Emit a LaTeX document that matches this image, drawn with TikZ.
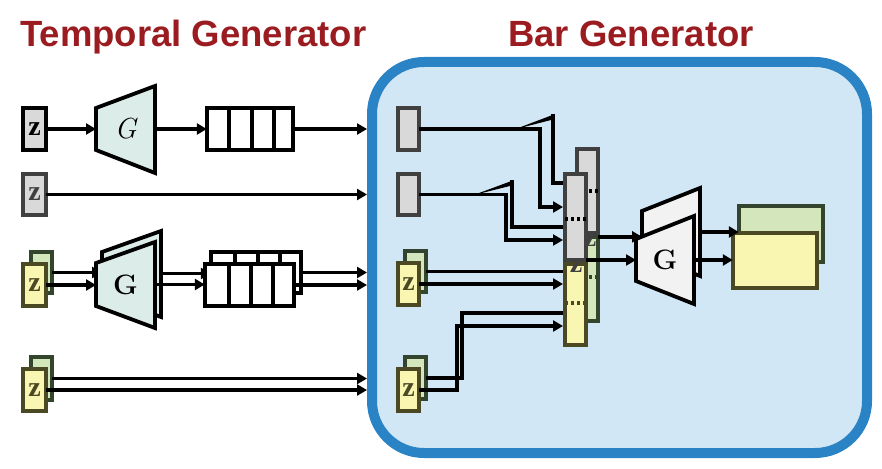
\documentclass[tikz,border=0pt]{standalone}
\usepackage{fontspec}
\newfontfamily\titlefont{Liberation Sans}
\newfontfamily\zfont{Liberation Serif}
\usetikzlibrary{arrows.meta,calc}
\definecolor{tred}{HTML}{9B1C20}
\definecolor{gfill}{HTML}{D9D9D9}
\definecolor{gborder}{HTML}{404040}
\definecolor{yfill}{HTML}{F9F6B2}
\definecolor{yborder}{HTML}{4B4824}
\definecolor{grfill}{HTML}{D3E6BC}
\definecolor{grborder}{HTML}{34452D}
\definecolor{tealfill}{HTML}{DCECE8}
\definecolor{gtwofill}{HTML}{F2F2F2}
\definecolor{bfill}{HTML}{D2E7F5}
\definecolor{bborder}{HTML}{2A83C5}
\newcommand{\mybox}[7]{\node[#2,minimum width={(#5)-(#3)-3.6},minimum height={(#6)-(#4)-3.6}] (#1) at ({((#3)+(#5))/2},{((#4)+(#6))/2}) {#7};}
\newcommand{\mytrap}[7]{\draw[line width=3.8pt,line join=miter,fill=#7] (#1,#2) -- (#1,#3) -- (#4,#6) -- (#4,#5) -- cycle;}
\newcommand{\zt}{\zfont\bfseries\fontsize{28}{28}\selectfont z}
\begin{document}
\begin{tikzpicture}[x=1pt,y=-1pt,
  conn/.style={line width=3.8pt},
  arr/.style={line width=3.8pt,-{Triangle[length=10pt,width=11pt]}},
  bx/.style={line width=3.6pt,inner sep=0pt,outer sep=0pt},
  grayb/.style={bx,draw=gborder,fill=gfill,text=gborder},
  blackb/.style={bx,draw=black,fill=gfill,text=black},
  yelb/.style={bx,draw=yborder,fill=yfill,text=yborder},
  grnb/.style={bx,draw=grborder,fill=grfill},
  queue/.style={bx,draw=black,fill=white},
  glabel/.style={inner sep=0pt,outer sep=0pt},
  dots/.style={line width=4pt,dash pattern=on 3pt off 3pt},
  title/.style={text=tred,font=\titlefont\bfseries\fontsize{36.5}{40}\selectfont,inner sep=0pt},
  barbox/.style={draw=bborder,fill=bfill,line width=10pt,rounded corners=52pt,inner sep=0pt}]
\useasboundingbox (0,0) rectangle (882,468);
\node[title,anchor=base west] (t1) at (20,47) {Temporal Generator};
\node[title,anchor=base] (t2) at (631,47) {Bar Generator};
\node[barbox,minimum width=495pt,minimum height=391pt] (bar) at (619.5,257.5) {};

% row 1
\mybox{z1}{blackb}{21}{106}{48}{152}{\zt}
\mytrap{96}{108}{150}{155}{86}{173}{tealfill}
\node[glabel,minimum width=59pt,minimum height=42pt] (g1) at (125.5,129) {\fontsize{29}{29}\selectfont\itshape G};
\mybox{q1}{queue}{205}{106}{295}{152}{}
\foreach \x in {229,252,274} \draw[line width=3.6pt] (\x,106) -- (\x,152);
\draw[arr] (z1.east) -- (g1.west);
\draw[arr] (g1.east) -- (q1.west);
\draw[arr] (q1.east) -- (q1.east -| bar.west);

% row 2
\mybox{z2}{grayb}{21}{172}{48}{217}{\zt}
\draw[arr] (z2.east) -- (z2.east -| bar.west);

% row 3
\mybox{z3b}{grnb}{29}{250}{54}{295}{}
\mybox{z3}{yelb}{21}{262}{48}{308}{\zt}
\mytrap{102}{252}{295}{161}{231}{317}{tealfill}
\node[glabel,minimum width=59pt,minimum height=43pt] (g3b) at (131.5,273.5) {};
\draw[arr] (z3b.east) -- (z3b.east -| g3b.west);
\mytrap{96}{263}{306}{155}{242}{328}{tealfill}
\node[glabel,minimum width=59pt,minimum height=43pt] (g3) at (125.5,284.5) {\fontsize{28}{28}\selectfont\bfseries G};
\draw[arr] (z3.east) -- (z3.east -| g3.west);
\mybox{q3b}{queue}{209}{250}{303}{295}{}
\foreach \x in {235,258,280} \draw[line width=3.6pt] (\x,250) -- (\x,295);
\draw[arr] (g3b.east) -- (g3b.east -| q3b.west);
\mybox{q3}{queue}{203}{262}{296}{308}{}
\foreach \x in {229,251,273} \draw[line width=3.6pt] (\x,262) -- (\x,308);
\draw[arr] (g3.east) -- (g3.east -| q3.west);
\draw[arr] (q3b.east) -- (q3b.east -| bar.west);
\draw[arr] (q3.east) -- (q3.east -| bar.west);

% row 4
\mybox{z4b}{grnb}{29}{355}{54}{402}{}
\mybox{z4}{yelb}{21}{367}{48}{413}{\zt}
\draw[arr] (z4b.east) -- (z4b.east -| bar.west);
\draw[arr] (z4.east) -- (z4.east -| bar.west);

% inner inputs
\mybox{c1}{grayb}{396}{106}{421}{152}{}
\mybox{c2}{grayb}{396}{172}{421}{217}{}
\mybox{c3b}{grnb}{403}{249}{428}{294}{}
\mybox{c3}{yelb}{396}{261}{421}{307}{\zt}
\mybox{c4b}{grnb}{403}{355}{428}{401}{}
\mybox{c4}{yelb}{396}{367}{421}{413}{\zt}

% back bar
\mybox{bg}{grayb}{575}{147}{600}{235}{}
\mybox{bgr}{grnb}{575}{235}{600}{323}{}
\node[text=gborder,inner sep=0pt] (bz) at (590,240) {\zt};
\draw[dots] (577,191) -- (599,191);
\draw[dots,draw=grborder] (577,277) -- (599,277);

\coordinate (w1) at (553,116);
\coordinate (w2) at (512,182);
\coordinate (b1) at (575,183);
\coordinate (b2) at (575,227);
\coordinate (b3) at (575,271.5);
\coordinate (b4) at (575,313);
\coordinate (f1) at (563,207);
\coordinate (f2) at (563,240);
\coordinate (f3) at (563,284);
\coordinate (f4) at (563,326);

\fill ($(c1.east)+(95,0.5)$) -- ($(w1)+(1.9,-1.9)$) -- ($(w1)+(1.9,3)$) -- cycle;
\draw[conn] ($(w1)+(0,-1.9)$) |- (b1);
\fill ($(c2.east)+(54.5,0.5)$) -- ($(w2)+(1.9,-1.9)$) -- ($(w2)+(1.9,3)$) -- cycle;
\draw[conn] ($(w2)+(0,-1.9)$) |- (b2);
\draw[conn] (c3b.east) -- (b3);
\draw[conn] (c4b.east) -- ++(35.5,0) |- (b4);

% front bar
\mybox{fg}{grayb}{563}{172}{588}{262}{}
\mybox{fy}{yelb}{563}{262}{588}{347}{}
\node[text=gborder,inner sep=0pt] (fz) at (576,266) {\zt};
\draw[dots] (565,219) -- (587,219);
\draw[dots,draw=yborder] (565,303) -- (587,303);

\draw[arr] (c1.east) -- ++(120.5,0) |- (f1);
\draw[arr] (c2.east) -- ++(86.5,0) |- (f2);
\draw[arr] (c3.east) -- (f3);
\draw[arr] (c4.east) -- ++(37.5,0) |- (f4);

% second generator
\mytrap{642}{211}{253}{700}{188}{276}{gtwofill}
\node[glabel,minimum width=58pt,minimum height=42pt] (g2b) at (671,232) {};
\draw[arr] (bgr.north east) -- (bgr.north east -| g2b.west);
\mytrap{636}{239}{281}{694}{216}{304}{gtwofill}
\node[glabel,minimum width=58pt,minimum height=42pt] (g2) at (665,260) {\fontsize{28}{28}\selectfont\bfseries G};
\draw[arr] (fg.east |- g2.west) -- (g2.west);

% outputs
\mybox{ob}{grnb}{737}{204}{825}{264}{}
\mybox{o}{yelb}{731}{231}{819}{290}{}
\draw[arr] (g2b.east) -- (g2b.east -| ob.west);
\draw[arr] (g2.east) -- (g2.east -| o.west);
\end{tikzpicture}
\end{document}
